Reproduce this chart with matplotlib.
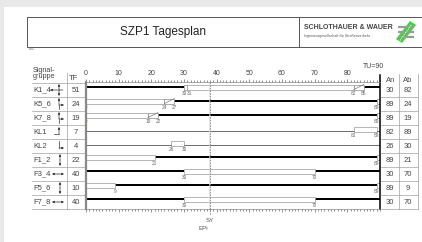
import matplotlib
matplotlib.use('Agg')
import matplotlib.pyplot as plt
from matplotlib.patches import Rectangle, Polygon

plt.rcParams['font.family'] = ['Liberation Sans', 'DejaVu Sans']

W, H = 422, 242

# ── Signal plan data ─────────────────────────────────────────────────────────
groups = ['K1_4', 'K5_6', 'K7_8', 'KL1', 'KL2', 'F1_2', 'F3_4', 'F5_6', 'F7_8']
tf = [51, 24, 19, 7, 4, 22, 40, 10, 40]
an = [30, 89, 89, 82, 26, 89, 30, 89, 30]
ab = [82, 24, 19, 89, 30, 21, 70, 9, 70]
red_yellow = [1, 1, 1, 0, 0, 0, 0, 0, 0]
amber = [3, 3, 3, 0, 0, 0, 0, 0, 0]
dark_rows = ['KL1', 'KL2']
icons = ['cross', 'lturn', 'lturn', 'upleft', 'downright', 'vert', 'horiz', 'vert', 'horiz']
cycle = 90
sync_time = 38

fig = plt.figure(figsize=(W / 100, H / 100), dpi=100)
fig.patch.set_facecolor('#e9e9e9')

# background / frame axes in pixel coordinates
bg = fig.add_axes([0, 0, 1, 1])
bg.set_xlim(0, W)
bg.set_ylim(H, 0)
bg.axis('off')
bg.add_patch(Rectangle((4, 7), W - 4, H - 7, facecolor='white', edgecolor='none'))

# title block
bg.add_patch(Rectangle((27, 17), W - 27 + 5, 30, facecolor='none', edgecolor='#555', lw=0.7))
bg.plot([299, 299], [17, 47], color='#555', lw=0.7)
bg.text(163, 32, 'SZP1 Tagesplan', ha='center', va='center', fontsize=8.5, color='#222')
bg.text(29, 49.5, 'Lsa+', ha='left', va='center', fontsize=2.2, color='#777')
bg.text(304, 27.5, 'SCHLOTHAUER & WAUER', ha='left', va='center', fontsize=5,
        fontweight='bold', color='#444')
bg.text(304, 36.5, 'Ingenieurgesellschaft für Straßenverkehr', ha='left', va='center',
        fontsize=2.6, color='#555')
for yy in (27, 32, 37):
    bg.plot([398, 414], [yy, yy], color='#9a9a9a', lw=1.6, solid_capstyle='butt')
bg.add_patch(Polygon([(396, 39), (402, 43), (416, 25), (410, 21)], closed=True,
                     facecolor='#36d936', edgecolor='none'))
bg.plot([400, 412], [40.5, 24], color='white', lw=0.6, ls=(0, (1.5, 1.2)))

# ── left / right tables ─────────────────────────────────────────────────────
bg.text(33, 71, 'Signal-', ha='left', va='center', fontsize=5.2, color='#444')
bg.text(33, 77, 'gruppe', ha='left', va='center', fontsize=5.2, color='#444')
bg.text(73, 78, 'TF', ha='center', va='center', fontsize=5.5, color='#444')
bg.text(391, 80, 'An', ha='center', va='center', fontsize=5.5, color='#444')
bg.text(408, 80, 'Ab', ha='center', va='center', fontsize=5.5, color='#444')

row0, step = 90, 14
n = len(groups)
for k in range(n + 1):
    yy = row0 - 7 + k * step
    bg.plot([32, 86], [yy, yy], color='#a0a0a0', lw=0.5)
    if k > 0:
        bg.plot([381, 418], [yy, yy], color='#a0a0a0', lw=0.5)
bg.plot([67, 67], [73, row0 - 7 + n * step], color='#a0a0a0', lw=0.5)
bg.plot([399, 399], [74, row0 - 7 + n * step], color='#a0a0a0', lw=0.5)
bg.plot([418, 418], [74, row0 - 7 + n * step], color='#a0a0a0', lw=0.5)


def arrow(x1, y1, x2, y2):
    bg.annotate('', xy=(x2, y2), xytext=(x1, y1),
                arrowprops=dict(arrowstyle='-|>', color='#333', lw=0.5,
                                mutation_scale=3, shrinkA=0, shrinkB=0))


for i, (g, t, a, b, ic) in enumerate(zip(groups, tf, an, ab, icons)):
    yc = row0 + i * step
    bg.text(33, yc, g, ha='left', va='center', fontsize=5.5, color='#444')
    bg.text(76, yc, str(t), ha='center', va='center', fontsize=5.5, color='#444')
    bg.text(390, yc, str(a), ha='center', va='center', fontsize=5.5, color='#444')
    bg.text(408, yc, str(b), ha='center', va='center', fontsize=5.5, color='#444')
    if ic == 'cross':
        arrow(63, yc, 50, yc)
        arrow(59, yc, 59, yc - 6)
        arrow(59, yc, 59, yc + 6)
    elif ic == 'lturn':
        arrow(59, yc + 1, 59, yc - 6)
        bg.plot([59, 59], [yc + 1, yc + 5], color='#333', lw=0.5)
        arrow(59, yc + 1, 64, yc + 1)
    elif ic == 'upleft':
        bg.plot([54, 59], [yc + 2, yc + 2], color='#333', lw=0.5)
        arrow(59, yc + 2, 59, yc - 5)
    elif ic == 'downright':
        bg.plot([59, 59], [yc - 5, yc + 2], color='#333', lw=0.5)
        arrow(59, yc + 2, 64, yc + 2)
    elif ic == 'vert':
        arrow(60, yc, 60, yc - 6)
        arrow(60, yc, 60, yc + 6)
    elif ic == 'horiz':
        arrow(58, yc, 52, yc)
        arrow(58, yc, 64, yc)

# ── timing diagram axes ──────────────────────────────────────────────────────
top_px, bot_px, x0_px, x1_px = 82, 209, 86, 380
ax = fig.add_axes([x0_px / W, 1 - bot_px / H, (x1_px - x0_px) / W, (bot_px - top_px) / H])
ax.set_facecolor('none')
ax.set_xlim(0, cycle)
ax.set_ylim((bot_px - row0) / step, (top_px - row0) / step)
ax.set_yticks([])
ax.set_xticks(range(0, cycle, 10))
ax.set_xticks(range(0, cycle + 1), minor=True)
ax.tick_params(axis='x', which='both', top=True, bottom=True, labeltop=True,
               labelbottom=False, direction='out', color='#666', width=0.5,
               labelsize=5, labelcolor='#444', pad=1)
ax.tick_params(axis='x', which='major', length=2.5)
ax.tick_params(axis='x', which='minor', length=1.1)
for s in ('top', 'bottom'):
    ax.spines[s].set_color('#888')
    ax.spines[s].set_linewidth(0.5)
ax.spines['left'].set_color('#888')
ax.spines['left'].set_linewidth(1.6)
ax.spines['right'].set_visible(False)


def pieces(start, end):
    start %= cycle
    end %= cycle
    if end == start:
        return []
    if end > start:
        return [(start, end - start)]
    out = []
    if cycle - start > 0:
        out.append((start, cycle - start))
    if end > 0:
        out.append((0, end))
    return out


def time_label(x, y, m, ha='center'):
    col = '#d08a3c' if m == 0 else '#666'
    ax.text(x, y, str(m), ha=ha, va='center', fontsize=3.4, color=col, clip_on=False)


bar_h, red_h = 0.36, 0.2
for i, (g, a, b, ry, am) in enumerate(zip(groups, an, ab, red_yellow, amber)):
    yb = i - 0.21
    # red / dark
    for s, w in pieces(b + am, a):
        if g in dark_rows:
            ax.hlines(yb + 0.12, s, s + w, color='#333', lw=0.5)
        else:
            ax.barh(yb, w, left=s, height=red_h, color='black', edgecolor='none')
    # red-yellow
    for s, w in pieces(a, a + ry):
        ax.barh(yb, w, left=s, height=bar_h, color='white', edgecolor='#888', lw=0.5)
    # green
    for s, w in pieces(a + ry, b):
        ax.barh(yb, w, left=s, height=bar_h, color='white', edgecolor='#999', lw=0.5)
    # amber
    for s, w in pieces(b, b + am):
        ax.barh(yb, w, left=s, height=bar_h, color='white', edgecolor='#888', lw=0.5)
        ax.plot([s, s + w], [yb + bar_h / 2, yb - bar_h / 2], color='#777', lw=0.5)
    # switching time labels
    ly = yb + 0.45
    if ry and a + ry < cycle:
        time_label(a + ry, ly, a, ha='right')
        time_label(a + ry, ly, a + ry, ha='left')
    else:
        time_label(a, ly, a)
        if ry:
            time_label(0, ly, (a + ry) % cycle)
    time_label(b, ly, b)
    if am:
        time_label((b + am) % cycle, ly, (b + am) % cycle)

# synchronisation line and cycle end
ax.plot([sync_time, sync_time], [(top_px - row0) / step, (215 - row0) / step],
        color='#888', lw=0.6, ls=(0, (2, 1.2)), clip_on=False)
ax.plot([sync_time - 0.5, sync_time - 0.5], [(top_px - row0) / step, (bot_px - row0) / step],
        color='#d8d8d8', lw=0.5, clip_on=False)
ax.text(sync_time, (220 - row0) / step, 'SY', ha='center', va='center', fontsize=4.5,
        color='#555', clip_on=False)
ax.text(sync_time - 2.2, (228 - row0) / step, 'EPi', ha='center', va='center', fontsize=4.5,
        color='#555', clip_on=False)
ax.plot([cycle, cycle], [(75 - row0) / step, (bot_px - row0) / step], color='black',
        lw=1.1, clip_on=False)
ax.text(cycle - 2, (67 - row0) / step, 'TU=%d' % cycle, ha='center', va='center',
        fontsize=5, color='#444', clip_on=False)

fig.savefig('out.png', dpi=100, facecolor=fig.get_facecolor())
